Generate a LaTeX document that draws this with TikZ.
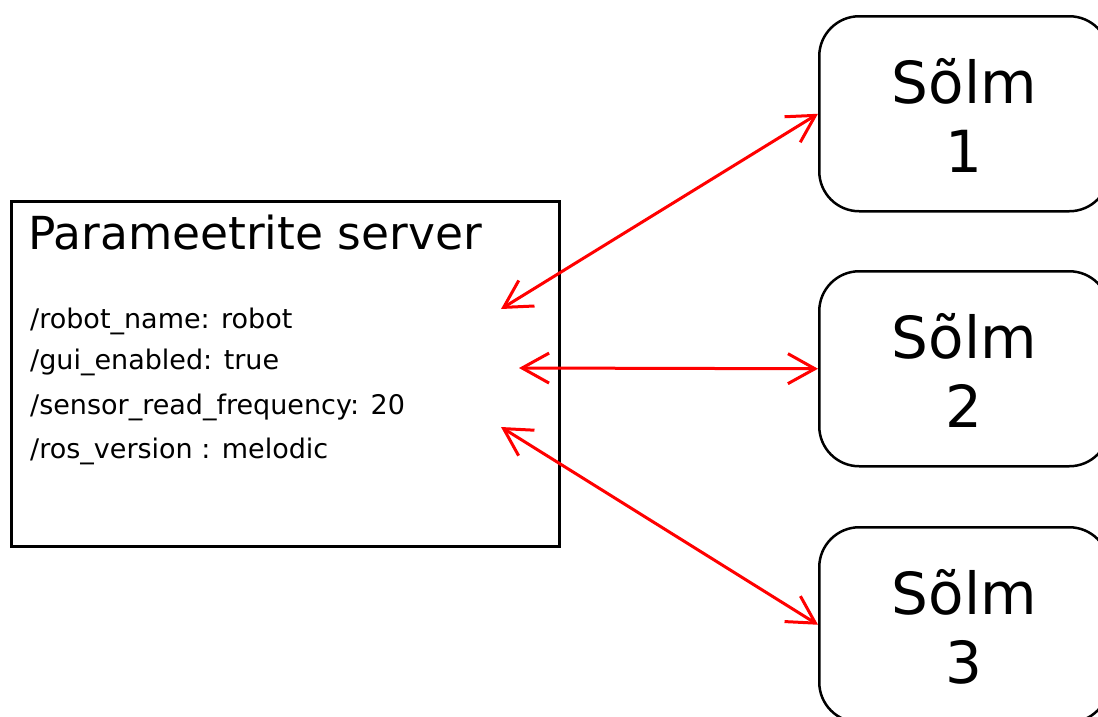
\documentclass[tikz,border=0pt]{standalone}
\usepackage{fontspec}
\setmainfont{DejaVu Sans}
\usetikzlibrary{arrows.meta}
\tikzset{
  nodebox/.style={draw=black, line width=2.5pt, rounded corners=40pt, minimum width=290pt, minimum height=195pt, anchor=north west, inner sep=0pt},
  nodelabel/.style={font=\fontsize{58}{69}\selectfont, align=center},
  serverbox/.style={draw=black, line width=2.5pt, minimum width=548pt, minimum height=345pt, anchor=north west, inner sep=0pt},
  paramline/.style={anchor=base west, inner sep=0pt, font=\fontsize{27}{30}\selectfont},
  link/.style={draw=red, line width=3pt, {Straight Barb[length=27pt,width=30pt,line width=3pt]}-{Straight Barb[length=27pt,width=30pt,line width=3pt]}},
}
\begin{document}
\begin{tikzpicture}[x=1pt,y=-1pt]
\useasboundingbox (0,0) rectangle (1098,716);
% parameter server
\node[serverbox] (srv) at (10,200) {};
\node[anchor=base west, inner sep=0pt, font=\fontsize{45.5}{56}\selectfont] (title) at (28,249) {Parameetrite server};
\node[paramline] (p1) at (30,328) {/robot\_name: robot};
\node[paramline] (p2) at (30,369) {/gui\_enabled: true};
\node[paramline] (p3) at (30,414) {/sensor\_read\_frequency: 20};
\node[paramline] (p4) at (30,458) {/ros\_version : melodic};
% free ends of the links on the server side
\coordinate (s1) at (501,309);
\coordinate (s2) at (519,368);
\coordinate (s3) at (501,427);
% nodes
\node[nodebox] (n1) at (818,15) {};
\node[nodebox] (n2) at (818,270) {};
\node[nodebox] (n3) at (818,526) {};
\node[nodelabel] (l1) at ([yshift=-2pt]n1.center) {Sõlm\\1};
\node[nodelabel] (l2) at ([yshift=-2pt]n2.center) {Sõlm\\2};
\node[nodelabel] (l3) at ([yshift=-2pt]n3.center) {Sõlm\\3};
% links between the server and the nodes
\draw[link] (s1) -- (n1.west);
\draw[link] (s2) -- (n2.west);
\draw[link] (s3) -- (n3.west);
\end{tikzpicture}
\end{document}
